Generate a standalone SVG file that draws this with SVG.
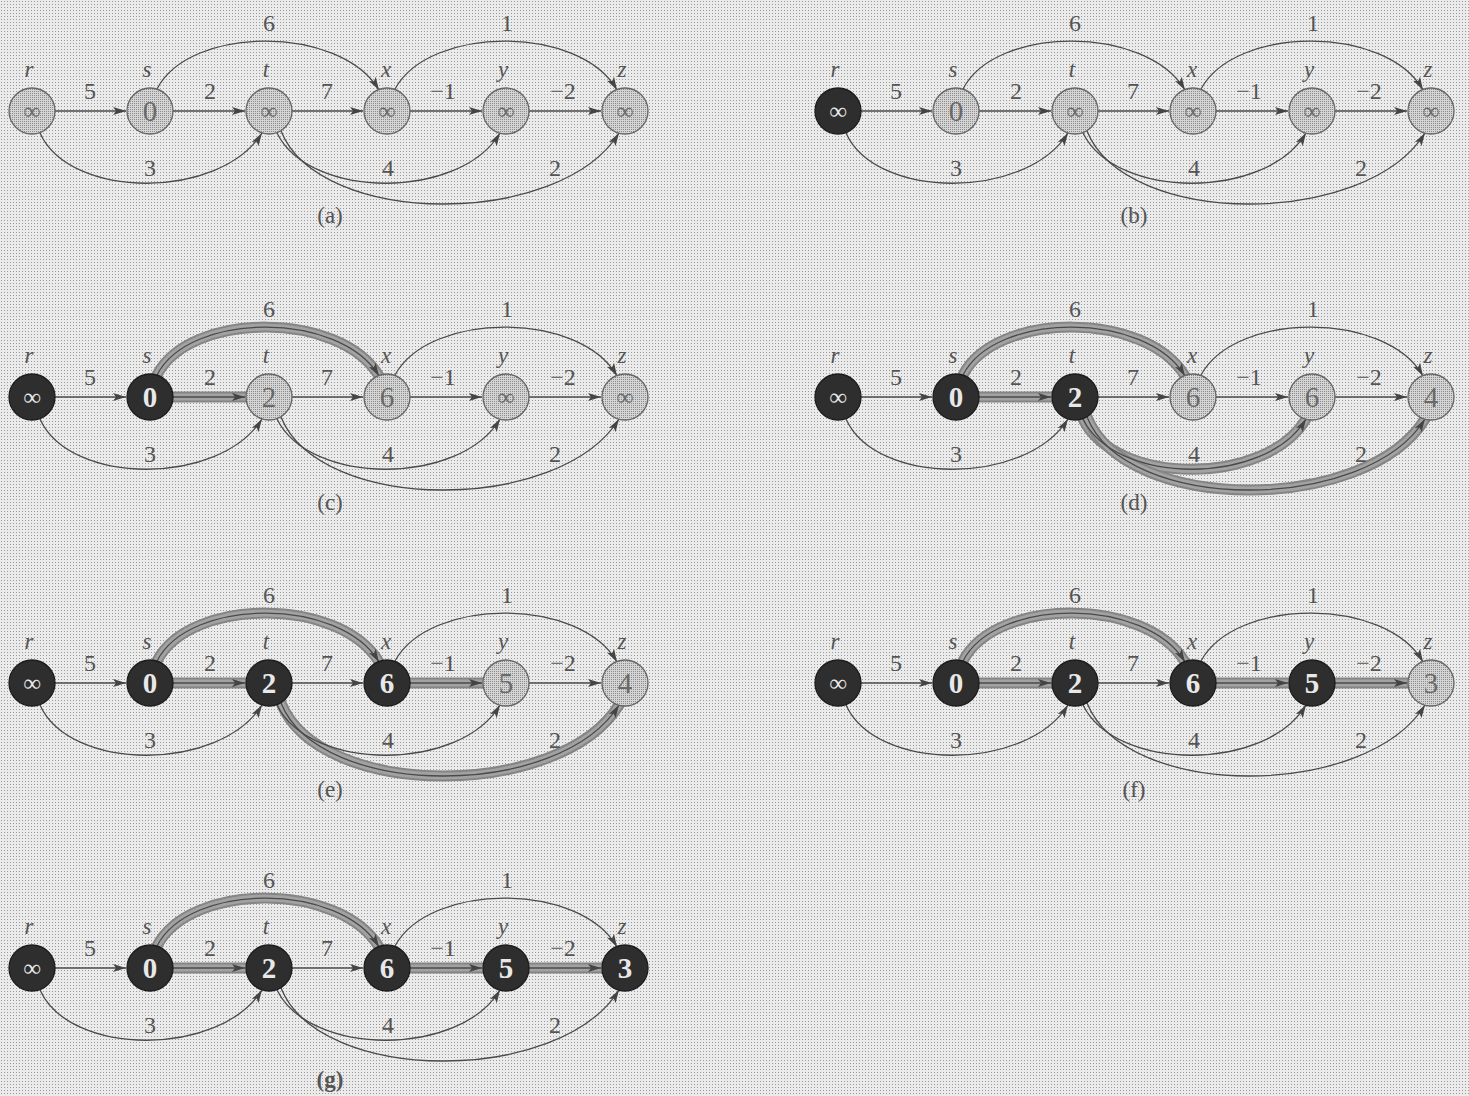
<svg xmlns="http://www.w3.org/2000/svg" width="1469" height="1096" viewBox="0 0 1469 1096">
<defs>
<pattern id="stip" width="3" height="3" patternUnits="userSpaceOnUse"><rect width="3" height="3" fill="#ebebeb"/><rect x="1" y="1" width="1" height="1" fill="#999"/></pattern>
<pattern id="stip2" width="2" height="2" patternUnits="userSpaceOnUse"><rect width="2" height="2" fill="#d4d4d4"/><rect width="1" height="1" fill="#8c8c8c"/></pattern>
<marker id="arr" markerUnits="userSpaceOnUse" markerWidth="14" markerHeight="10" refX="13" refY="5" orient="auto"><path d="M0,1 L13,5 L0,9 L3,5 z" fill="#444"/></marker>
</defs>
<style>
.light circle{fill:url(#stip2);stroke:#666;stroke-width:1.3}
.light text{fill:#6a6a6a}
.dark circle{fill:#2e2e2e;stroke:#1c1c1c;stroke-width:1.3}
.dark text{fill:#e8e8e8;font-weight:bold}
.node text{font-family:"Liberation Serif",serif;font-size:29px;text-anchor:middle}
.node text.inf{font-size:24px}
.edge{fill:none;stroke:#4a4a4a;stroke-width:1.3;marker-end:url(#arr)}
.band{fill:none;stroke:#858585;stroke-width:11;stroke-linecap:round}
.band2{fill:none;stroke:#a2a2a2;stroke-width:7;stroke-linecap:round}
.w{font-family:"Liberation Serif",serif;font-size:24px;fill:#555;text-anchor:middle}
.nm{font-family:"Liberation Serif",serif;font-size:23px;font-style:italic;fill:#555;text-anchor:middle}
.cap{font-family:"Liberation Serif",serif;font-size:23px;fill:#555;text-anchor:middle}
</style>
<rect width="1469" height="1096" fill="url(#stip)"/>

<!-- Panel a -->
<g id="panel-a">
<g id="a-connectors">
<path class="edge" d="M55,111 L126,111"/>
<path class="edge" d="M173,111 L245,111"/>
<path class="edge" d="M292,111 L363,111"/>
<path class="edge" d="M410,111 L482,111"/>
<path class="edge" d="M529,111 L601,111"/>
<path class="edge" d="M157,89 C190,25 340,25 379,90"/>
<path class="edge" d="M395,89 C430,25 580,25 617,90"/>
<path class="edge" d="M40,133 C70,200 220,200 262,133"/>
<path class="edge" d="M277,133 C310,200 460,200 500,133"/>
<path class="edge" d="M281,131 C320,228 560,228 619,133"/>
</g>
<g id="a-r" class="node light" transform="translate(32,111)"><circle r="23"/><text class="inf" y="8">∞</text></g>
<g id="a-s" class="node light" transform="translate(150,111)"><circle r="23"/><text y="10">0</text></g>
<g id="a-t" class="node light" transform="translate(269,111)"><circle r="23"/><text class="inf" y="8">∞</text></g>
<g id="a-x" class="node light" transform="translate(387,111)"><circle r="23"/><text class="inf" y="8">∞</text></g>
<g id="a-y" class="node light" transform="translate(506,111)"><circle r="23"/><text class="inf" y="8">∞</text></g>
<g id="a-z" class="node light" transform="translate(625,111)"><circle r="23"/><text class="inf" y="8">∞</text></g>
<g id="a-labels">
<text class="nm" x="29" y="77">r</text><text class="nm" x="147" y="77">s</text><text class="nm" x="266" y="77">t</text><text class="nm" x="386" y="77">x</text><text class="nm" x="503" y="77">y</text><text class="nm" x="622" y="77">z</text>
<text class="w" x="90" y="99">5</text><text class="w" x="210" y="99">2</text><text class="w" x="327" y="99">7</text><text class="w" x="443" y="99">−1</text><text class="w" x="563" y="99">−2</text>
<text class="w" x="269" y="31">6</text><text class="w" x="507" y="31">1</text><text class="w" x="150" y="176">3</text><text class="w" x="388" y="176">4</text><text class="w" x="555" y="176">2</text>
</g>
</g>
<text class="cap" x="330" y="223">(a)</text>

<!-- Panel b -->
<g id="panel-b" transform="translate(806,0)">
<g id="b-connectors">
<path class="edge" d="M55,111 L126,111"/>
<path class="edge" d="M173,111 L245,111"/>
<path class="edge" d="M292,111 L363,111"/>
<path class="edge" d="M410,111 L482,111"/>
<path class="edge" d="M529,111 L601,111"/>
<path class="edge" d="M157,89 C190,25 340,25 379,90"/>
<path class="edge" d="M395,89 C430,25 580,25 617,90"/>
<path class="edge" d="M40,133 C70,200 220,200 262,133"/>
<path class="edge" d="M277,133 C310,200 460,200 500,133"/>
<path class="edge" d="M281,131 C320,228 560,228 619,133"/>
</g>
<g id="b-r" class="node dark" transform="translate(32,111)"><circle r="23"/><text class="inf" y="8">∞</text></g>
<g id="b-s" class="node light" transform="translate(150,111)"><circle r="23"/><text y="10">0</text></g>
<g id="b-t" class="node light" transform="translate(269,111)"><circle r="23"/><text class="inf" y="8">∞</text></g>
<g id="b-x" class="node light" transform="translate(387,111)"><circle r="23"/><text class="inf" y="8">∞</text></g>
<g id="b-y" class="node light" transform="translate(506,111)"><circle r="23"/><text class="inf" y="8">∞</text></g>
<g id="b-z" class="node light" transform="translate(625,111)"><circle r="23"/><text class="inf" y="8">∞</text></g>
<g id="b-labels">
<text class="nm" x="29" y="77">r</text><text class="nm" x="147" y="77">s</text><text class="nm" x="266" y="77">t</text><text class="nm" x="386" y="77">x</text><text class="nm" x="503" y="77">y</text><text class="nm" x="622" y="77">z</text>
<text class="w" x="90" y="99">5</text><text class="w" x="210" y="99">2</text><text class="w" x="327" y="99">7</text><text class="w" x="443" y="99">−1</text><text class="w" x="563" y="99">−2</text>
<text class="w" x="269" y="31">6</text><text class="w" x="507" y="31">1</text><text class="w" x="150" y="176">3</text><text class="w" x="388" y="176">4</text><text class="w" x="555" y="176">2</text>
</g>
</g>
<text class="cap" x="1134" y="223">(b)</text>

<!-- Panel c -->
<g id="panel-c" transform="translate(0,286)">
<g id="c-connectors">
<path class="band" d="M157,89 C190,25 340,25 379,90"/><path class="band2" d="M157,89 C190,25 340,25 379,90"/>
<path class="band" d="M170,111 L246,111"/><path class="band2" d="M170,111 L246,111"/>
<path class="edge" d="M55,111 L126,111"/>
<path class="edge" d="M173,111 L245,111"/>
<path class="edge" d="M292,111 L363,111"/>
<path class="edge" d="M410,111 L482,111"/>
<path class="edge" d="M529,111 L601,111"/>
<path class="edge" d="M157,89 C190,25 340,25 379,90"/>
<path class="edge" d="M395,89 C430,25 580,25 617,90"/>
<path class="edge" d="M40,133 C70,200 220,200 262,133"/>
<path class="edge" d="M277,133 C310,200 460,200 500,133"/>
<path class="edge" d="M281,131 C320,228 560,228 619,133"/>
</g>
<g id="c-r" class="node dark" transform="translate(32,111)"><circle r="23"/><text class="inf" y="8">∞</text></g>
<g id="c-s" class="node dark" transform="translate(150,111)"><circle r="23"/><text y="10">0</text></g>
<g id="c-t" class="node light" transform="translate(269,111)"><circle r="23"/><text y="10">2</text></g>
<g id="c-x" class="node light" transform="translate(387,111)"><circle r="23"/><text y="10">6</text></g>
<g id="c-y" class="node light" transform="translate(506,111)"><circle r="23"/><text class="inf" y="8">∞</text></g>
<g id="c-z" class="node light" transform="translate(625,111)"><circle r="23"/><text class="inf" y="8">∞</text></g>
<g id="c-labels">
<text class="nm" x="29" y="77">r</text><text class="nm" x="147" y="77">s</text><text class="nm" x="266" y="77">t</text><text class="nm" x="386" y="77">x</text><text class="nm" x="503" y="77">y</text><text class="nm" x="622" y="77">z</text>
<text class="w" x="90" y="99">5</text><text class="w" x="210" y="99">2</text><text class="w" x="327" y="99">7</text><text class="w" x="443" y="99">−1</text><text class="w" x="563" y="99">−2</text>
<text class="w" x="269" y="31">6</text><text class="w" x="507" y="31">1</text><text class="w" x="150" y="176">3</text><text class="w" x="388" y="176">4</text><text class="w" x="555" y="176">2</text>
</g>
</g>
<text class="cap" x="330" y="510">(c)</text>

<!-- Panel d -->
<g id="panel-d" transform="translate(806,286)">
<g id="d-connectors">
<path class="band" d="M157,89 C190,25 340,25 379,90"/><path class="band2" d="M157,89 C190,25 340,25 379,90"/>
<path class="band" d="M170,111 L246,111"/><path class="band2" d="M170,111 L246,111"/>
<path class="band" d="M277,133 C310,200 460,200 500,133"/><path class="band2" d="M277,133 C310,200 460,200 500,133"/>
<path class="band" d="M281,131 C320,228 560,228 619,133"/><path class="band2" d="M281,131 C320,228 560,228 619,133"/>
<path class="edge" d="M55,111 L126,111"/>
<path class="edge" d="M173,111 L245,111"/>
<path class="edge" d="M292,111 L363,111"/>
<path class="edge" d="M410,111 L482,111"/>
<path class="edge" d="M529,111 L601,111"/>
<path class="edge" d="M157,89 C190,25 340,25 379,90"/>
<path class="edge" d="M395,89 C430,25 580,25 617,90"/>
<path class="edge" d="M40,133 C70,200 220,200 262,133"/>
<path class="edge" d="M277,133 C310,200 460,200 500,133"/>
<path class="edge" d="M281,131 C320,228 560,228 619,133"/>
</g>
<g id="d-r" class="node dark" transform="translate(32,111)"><circle r="23"/><text class="inf" y="8">∞</text></g>
<g id="d-s" class="node dark" transform="translate(150,111)"><circle r="23"/><text y="10">0</text></g>
<g id="d-t" class="node dark" transform="translate(269,111)"><circle r="23"/><text y="10">2</text></g>
<g id="d-x" class="node light" transform="translate(387,111)"><circle r="23"/><text y="10">6</text></g>
<g id="d-y" class="node light" transform="translate(506,111)"><circle r="23"/><text y="10">6</text></g>
<g id="d-z" class="node light" transform="translate(625,111)"><circle r="23"/><text y="10">4</text></g>
<g id="d-labels">
<text class="nm" x="29" y="77">r</text><text class="nm" x="147" y="77">s</text><text class="nm" x="266" y="77">t</text><text class="nm" x="386" y="77">x</text><text class="nm" x="503" y="77">y</text><text class="nm" x="622" y="77">z</text>
<text class="w" x="90" y="99">5</text><text class="w" x="210" y="99">2</text><text class="w" x="327" y="99">7</text><text class="w" x="443" y="99">−1</text><text class="w" x="563" y="99">−2</text>
<text class="w" x="269" y="31">6</text><text class="w" x="507" y="31">1</text><text class="w" x="150" y="176">3</text><text class="w" x="388" y="176">4</text><text class="w" x="555" y="176">2</text>
</g>
</g>
<text class="cap" x="1134" y="510">(d)</text>

<!-- Panel e -->
<g id="panel-e" transform="translate(0,572)">
<g id="e-connectors">
<path class="band" d="M157,89 C190,25 340,25 379,90"/><path class="band2" d="M157,89 C190,25 340,25 379,90"/>
<path class="band" d="M170,111 L246,111"/><path class="band2" d="M170,111 L246,111"/>
<path class="band" d="M407,111 L483,111"/><path class="band2" d="M407,111 L483,111"/>
<path class="band" d="M281,131 C320,228 560,228 619,133"/><path class="band2" d="M281,131 C320,228 560,228 619,133"/>
<path class="edge" d="M55,111 L126,111"/>
<path class="edge" d="M173,111 L245,111"/>
<path class="edge" d="M292,111 L363,111"/>
<path class="edge" d="M410,111 L482,111"/>
<path class="edge" d="M529,111 L601,111"/>
<path class="edge" d="M157,89 C190,25 340,25 379,90"/>
<path class="edge" d="M395,89 C430,25 580,25 617,90"/>
<path class="edge" d="M40,133 C70,200 220,200 262,133"/>
<path class="edge" d="M277,133 C310,200 460,200 500,133"/>
<path class="edge" d="M281,131 C320,228 560,228 619,133"/>
</g>
<g id="e-r" class="node dark" transform="translate(32,111)"><circle r="23"/><text class="inf" y="8">∞</text></g>
<g id="e-s" class="node dark" transform="translate(150,111)"><circle r="23"/><text y="10">0</text></g>
<g id="e-t" class="node dark" transform="translate(269,111)"><circle r="23"/><text y="10">2</text></g>
<g id="e-x" class="node dark" transform="translate(387,111)"><circle r="23"/><text y="10">6</text></g>
<g id="e-y" class="node light" transform="translate(506,111)"><circle r="23"/><text y="10">5</text></g>
<g id="e-z" class="node light" transform="translate(625,111)"><circle r="23"/><text y="10">4</text></g>
<g id="e-labels">
<text class="nm" x="29" y="77">r</text><text class="nm" x="147" y="77">s</text><text class="nm" x="266" y="77">t</text><text class="nm" x="386" y="77">x</text><text class="nm" x="503" y="77">y</text><text class="nm" x="622" y="77">z</text>
<text class="w" x="90" y="99">5</text><text class="w" x="210" y="99">2</text><text class="w" x="327" y="99">7</text><text class="w" x="443" y="99">−1</text><text class="w" x="563" y="99">−2</text>
<text class="w" x="269" y="31">6</text><text class="w" x="507" y="31">1</text><text class="w" x="150" y="176">3</text><text class="w" x="388" y="176">4</text><text class="w" x="555" y="176">2</text>
</g>
</g>
<text class="cap" x="330" y="797">(e)</text>

<!-- Panel f -->
<g id="panel-f" transform="translate(806,572)">
<g id="f-connectors">
<path class="band" d="M157,89 C190,25 340,25 379,90"/><path class="band2" d="M157,89 C190,25 340,25 379,90"/>
<path class="band" d="M170,111 L246,111"/><path class="band2" d="M170,111 L246,111"/>
<path class="band" d="M407,111 L483,111"/><path class="band2" d="M407,111 L483,111"/>
<path class="band" d="M526,111 L602,111"/><path class="band2" d="M526,111 L602,111"/>
<path class="edge" d="M55,111 L126,111"/>
<path class="edge" d="M173,111 L245,111"/>
<path class="edge" d="M292,111 L363,111"/>
<path class="edge" d="M410,111 L482,111"/>
<path class="edge" d="M529,111 L601,111"/>
<path class="edge" d="M157,89 C190,25 340,25 379,90"/>
<path class="edge" d="M395,89 C430,25 580,25 617,90"/>
<path class="edge" d="M40,133 C70,200 220,200 262,133"/>
<path class="edge" d="M277,133 C310,200 460,200 500,133"/>
<path class="edge" d="M281,131 C320,228 560,228 619,133"/>
</g>
<g id="f-r" class="node dark" transform="translate(32,111)"><circle r="23"/><text class="inf" y="8">∞</text></g>
<g id="f-s" class="node dark" transform="translate(150,111)"><circle r="23"/><text y="10">0</text></g>
<g id="f-t" class="node dark" transform="translate(269,111)"><circle r="23"/><text y="10">2</text></g>
<g id="f-x" class="node dark" transform="translate(387,111)"><circle r="23"/><text y="10">6</text></g>
<g id="f-y" class="node dark" transform="translate(506,111)"><circle r="23"/><text y="10">5</text></g>
<g id="f-z" class="node light" transform="translate(625,111)"><circle r="23"/><text y="10">3</text></g>
<g id="f-labels">
<text class="nm" x="29" y="77">r</text><text class="nm" x="147" y="77">s</text><text class="nm" x="266" y="77">t</text><text class="nm" x="386" y="77">x</text><text class="nm" x="503" y="77">y</text><text class="nm" x="622" y="77">z</text>
<text class="w" x="90" y="99">5</text><text class="w" x="210" y="99">2</text><text class="w" x="327" y="99">7</text><text class="w" x="443" y="99">−1</text><text class="w" x="563" y="99">−2</text>
<text class="w" x="269" y="31">6</text><text class="w" x="507" y="31">1</text><text class="w" x="150" y="176">3</text><text class="w" x="388" y="176">4</text><text class="w" x="555" y="176">2</text>
</g>
</g>
<text class="cap" x="1134" y="797">(f)</text>

<!-- Panel g -->
<g id="panel-g" transform="translate(0,857)">
<g id="g-connectors">
<path class="band" d="M157,89 C190,25 340,25 379,90"/><path class="band2" d="M157,89 C190,25 340,25 379,90"/>
<path class="band" d="M170,111 L246,111"/><path class="band2" d="M170,111 L246,111"/>
<path class="band" d="M407,111 L483,111"/><path class="band2" d="M407,111 L483,111"/>
<path class="band" d="M526,111 L602,111"/><path class="band2" d="M526,111 L602,111"/>
<path class="edge" d="M55,111 L126,111"/>
<path class="edge" d="M173,111 L245,111"/>
<path class="edge" d="M292,111 L363,111"/>
<path class="edge" d="M410,111 L482,111"/>
<path class="edge" d="M529,111 L601,111"/>
<path class="edge" d="M157,89 C190,25 340,25 379,90"/>
<path class="edge" d="M395,89 C430,25 580,25 617,90"/>
<path class="edge" d="M40,133 C70,200 220,200 262,133"/>
<path class="edge" d="M277,133 C310,200 460,200 500,133"/>
<path class="edge" d="M281,131 C320,228 560,228 619,133"/>
</g>
<g id="g-r" class="node dark" transform="translate(32,111)"><circle r="23"/><text class="inf" y="8">∞</text></g>
<g id="g-s" class="node dark" transform="translate(150,111)"><circle r="23"/><text y="10">0</text></g>
<g id="g-t" class="node dark" transform="translate(269,111)"><circle r="23"/><text y="10">2</text></g>
<g id="g-x" class="node dark" transform="translate(387,111)"><circle r="23"/><text y="10">6</text></g>
<g id="g-y" class="node dark" transform="translate(506,111)"><circle r="23"/><text y="10">5</text></g>
<g id="g-z" class="node dark" transform="translate(625,111)"><circle r="23"/><text y="10">3</text></g>
<g id="g-labels">
<text class="nm" x="29" y="77">r</text><text class="nm" x="147" y="77">s</text><text class="nm" x="266" y="77">t</text><text class="nm" x="386" y="77">x</text><text class="nm" x="503" y="77">y</text><text class="nm" x="622" y="77">z</text>
<text class="w" x="90" y="99">5</text><text class="w" x="210" y="99">2</text><text class="w" x="327" y="99">7</text><text class="w" x="443" y="99">−1</text><text class="w" x="563" y="99">−2</text>
<text class="w" x="269" y="31">6</text><text class="w" x="507" y="31">1</text><text class="w" x="150" y="176">3</text><text class="w" x="388" y="176">4</text><text class="w" x="555" y="176">2</text>
</g>
</g>
<text class="cap" x="330" y="1087" font-weight="bold" fill="#333">(g)</text>
</svg>
